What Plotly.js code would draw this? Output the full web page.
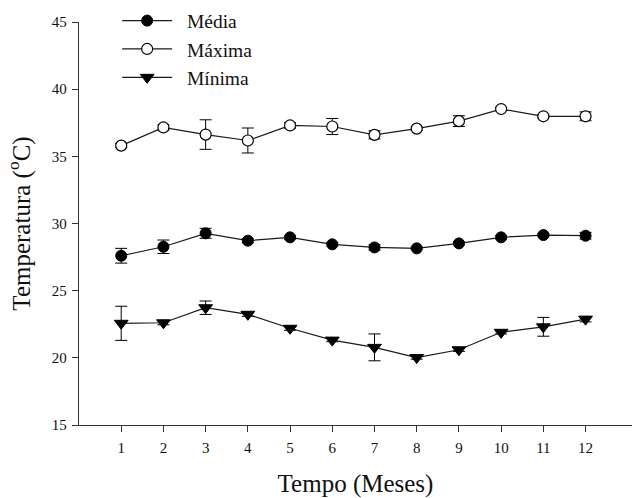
<!DOCTYPE html>
<html>
<head>
<meta charset="utf-8">
<script src="https://cdn.plot.ly/plotly-3.0.1.min.js"></script>
<style>html,body{margin:0;padding:0;background:#fff;}</style>
</head>
<body>
<div id="chart" style="width:639px;height:498px;"></div>
<script>
const months = [1,2,3,4,5,6,7,8,9,10,11,12];
const mediaVals = [27.6,28.27,29.27,28.72,28.97,28.45,28.22,28.15,28.52,28.97,29.14,29.09];
const mediaErr  = [0.55,0.5,0.37,0.15,0.12,0.12,0.2,0.1,0.12,0.12,0.12,0.25];
const maximaVals = [35.8,37.15,36.62,36.18,37.3,37.22,36.6,37.06,37.62,38.52,37.98,37.98];
const maximaErr  = [0.15,0.2,1.1,0.93,0.2,0.6,0.3,0.12,0.4,0.12,0.12,0.33];
const minimaVals = [22.57,22.61,23.73,23.24,22.2,21.32,20.78,20.02,20.6,21.9,22.31,22.88];
const minimaErr  = [1.27,0.15,0.5,0.15,0.15,0.12,1.0,0.12,0.12,0.12,0.7,0.2];
const yTicks = [15,20,25,30,35,40,45];
const xTicks = months;
const seriesNames = ['Média','Máxima','Mínima'];

const errStyle = arr => ({type:'data', array:arr, visible:true, color:'#000', thickness:1, width:6});
const lineStyle = {color:'#1a1a1a', width:1.2};
const pad = '\u00A0\u00A0';

const traces = [
  {x:months, y:mediaVals, name:pad+seriesNames[0], mode:'lines+markers', type:'scatter',
   line:lineStyle, marker:{symbol:'circle', size:11, color:'#000', line:{color:'#000', width:1}},
   error_y:errStyle(mediaErr)},
  {x:months, y:maximaVals, name:pad+seriesNames[1], mode:'lines+markers', type:'scatter',
   line:lineStyle, marker:{symbol:'circle', size:11, color:'#fff', line:{color:'#000', width:1.2}},
   error_y:errStyle(maximaErr)},
  {x:months, y:minimaVals, name:pad+seriesNames[2], mode:'lines+markers', type:'scatter',
   line:lineStyle, marker:{symbol:'triangle-down', size:12, color:'#000', line:{color:'#000', width:1}},
   error_y:errStyle(minimaErr)}
];

const layout = {
  width:639, height:498,
  margin:{l:79, r:7, t:22, b:73, autoexpand:false},
  paper_bgcolor:'#fff', plot_bgcolor:'#fff',
  font:{family:'"Liberation Serif", "Times New Roman", serif', color:'#111'},
  showlegend:true,
  legend:{x:0.069, y:1.051, xanchor:'left', yanchor:'top',
          font:{size:19.5, color:'#111'},
          bgcolor:'rgba(0,0,0,0)', itemwidth:50, tracegroupgap:0},
  xaxis:{range:[0,13.1], tickvals:xTicks, ticktext:xTicks.map(String), ticks:'outside', ticklen:6,
         tickcolor:'#333', showline:true, linecolor:'#333', linewidth:1.2, showgrid:false, zeroline:false,
         ticklabelstandoff:3,
         tickfont:{size:15}, title:{text:'Tempo (Meses)', font:{size:25}, standoff:28}},
  yaxis:{range:[15,45], tickvals:yTicks, ticks:'outside', ticklen:6,
         tickcolor:'#333', showline:true, linecolor:'#333', linewidth:1.2, showgrid:false, zeroline:false,
         ticklabelstandoff:2,
         tickfont:{size:15}, title:{text:'Temperatura (<sup>o</sup>C)', font:{size:25}, standoff:14}}
};

Plotly.newPlot('chart', traces, layout, {displayModeBar:false, staticPlot:true});
</script>
</body>
</html>
